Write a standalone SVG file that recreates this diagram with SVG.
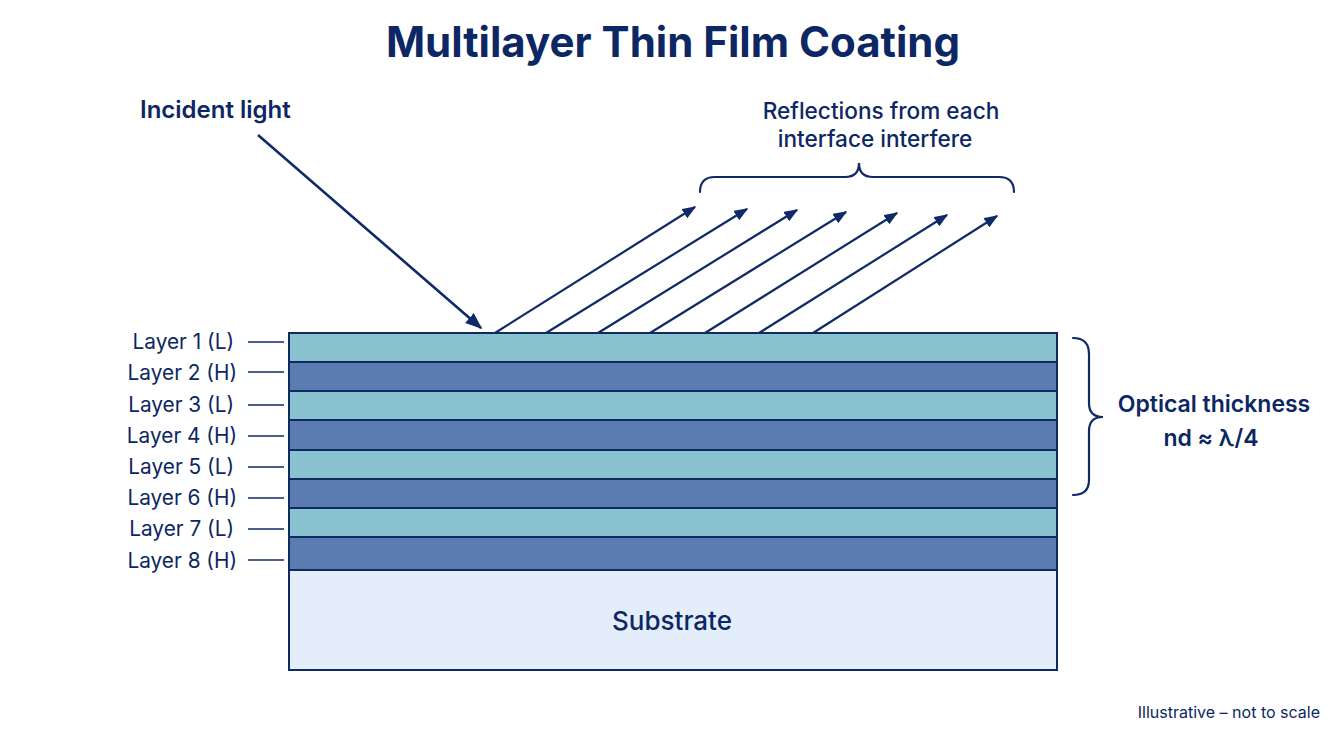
<svg xmlns="http://www.w3.org/2000/svg" width="1344" height="752" viewBox="0 0 1344 752">
<defs>
<style>
text{font-family:Inter,"Open Sans","Liberation Sans",sans-serif;fill:#0c2763}
.t{font-size:42px;font-weight:700;text-anchor:middle}
.lbl{font-size:24px;font-weight:600}
.ref{font-size:22.6px;font-weight:500;text-anchor:middle}
.lay{font-size:20.8px;text-anchor:end}
.opt{font-size:23px;font-weight:600;text-anchor:middle}
.sub{font-size:26px;font-weight:500;text-anchor:middle}
.note{font-size:16px;text-anchor:end}
.L{fill:#8bc2cf;stroke:#0f2a5e;stroke-width:2}
.H{fill:#5b7cb0;stroke:#0f2a5e;stroke-width:2}
.S{fill:#e3eefa;stroke:#0f2a5e;stroke-width:2}
.ray{stroke:#0f2a66;stroke-width:2.2;fill:none;marker-end:url(#ah)}
.tick{stroke:#0f2a66;stroke-width:1.6}
.brace{stroke:#0f2a66;stroke-width:2.2;fill:none;stroke-linecap:round}
</style>
<marker id="ah" viewBox="0 0 10 10" refX="9" refY="5" markerWidth="14" markerHeight="11" markerUnits="userSpaceOnUse" orient="auto" preserveAspectRatio="none">
<path d="M0,0 L10,5 L0,10 z" fill="#0f2a66"/>
</marker>
<marker id="ah2" viewBox="0 0 10 10" refX="9" refY="5" markerWidth="17" markerHeight="13" orient="auto" markerUnits="userSpaceOnUse" preserveAspectRatio="none">
<path d="M0,0 L10,5 L0,10 z" fill="#0f2a66"/>
</marker>
</defs>
<rect width="1344" height="752" fill="#ffffff"/>
<text class="t" x="673" y="57">Multilayer Thin Film Coating</text>

<g id="substrate"><rect class="S" x="289" y="570" width="768" height="100"/><text class="sub" x="672" y="630">Substrate</text></g>
<g id="layer1"><rect class="L" x="289" y="333" width="768" height="29"/><text class="lay" x="234" y="349">Layer 1 (L)</text></g>
<g id="layer2"><rect class="H" x="289" y="362" width="768" height="29"/><text class="lay" x="237" y="380">Layer 2 (H)</text></g>
<g id="layer3"><rect class="L" x="289" y="391" width="768" height="29"/><text class="lay" x="234" y="412">Layer 3 (L)</text></g>
<g id="layer4"><rect class="H" x="289" y="420" width="768" height="30"/><text class="lay" x="237" y="443">Layer 4 (H)</text></g>
<g id="layer5"><rect class="L" x="289" y="450" width="768" height="29"/><text class="lay" x="234" y="474">Layer 5 (L)</text></g>
<g id="layer6"><rect class="H" x="289" y="479" width="768" height="29"/><text class="lay" x="237" y="505">Layer 6 (H)</text></g>
<g id="layer7"><rect class="L" x="289" y="508" width="768" height="29"/><text class="lay" x="234" y="536">Layer 7 (L)</text></g>
<g id="layer8"><rect class="H" x="289" y="537" width="768" height="33"/><text class="lay" x="237" y="568">Layer 8 (H)</text></g>

<g id="connectors">
<line class="tick" x1="248" y1="342" x2="284" y2="342"/>
<line class="tick" x1="248" y1="372" x2="284" y2="372"/>
<line class="tick" x1="248" y1="405" x2="284" y2="405"/>
<line class="tick" x1="248" y1="436" x2="284" y2="436"/>
<line class="tick" x1="248" y1="467" x2="284" y2="467"/>
<line class="tick" x1="248" y1="498" x2="284" y2="498"/>
<line class="tick" x1="248" y1="529" x2="284" y2="529"/>
<line class="tick" x1="248" y1="560" x2="284" y2="560"/>
<line x1="258" y1="135" x2="481" y2="328" stroke="#0f2a66" stroke-width="2.6" marker-end="url(#ah2)"/>
<line class="ray" x1="495" y1="333" x2="695" y2="207"/>
<line class="ray" x1="546" y1="333" x2="747" y2="209"/>
<line class="ray" x1="598" y1="333" x2="797" y2="210"/>
<line class="ray" x1="650" y1="333" x2="846" y2="212"/>
<line class="ray" x1="705" y1="333" x2="897" y2="213"/>
<line class="ray" x1="759" y1="333" x2="947" y2="215"/>
<line class="ray" x1="813" y1="333" x2="997" y2="216"/>
</g>

<g id="incident-label"><text class="lbl" x="140" y="118">Incident light</text></g>

<g id="reflections-label">
<path class="brace" d="M700,192 Q700,177 715,177 L845,177 Q859,177 859,163 Q859,177 873,177 L999,177 Q1014,177 1014,192"/>
<text class="ref" x="881" y="119">Reflections from each</text>
<text class="ref" x="875" y="147">interface interfere</text>
</g>

<g id="optical-label">
<path class="brace" d="M1073,338 Q1089,338 1089,354 L1089,403 Q1089,417 1103,417 Q1089,417 1089,431 L1089,480 Q1089,495 1073,495"/>
<text class="opt" x="1214" y="412">Optical thickness</text>
<text class="opt" x="1211" y="446">nd ≈ λ/4</text>
</g>

<text class="note" x="1320" y="718">Illustrative – not to scale</text>
</svg>
